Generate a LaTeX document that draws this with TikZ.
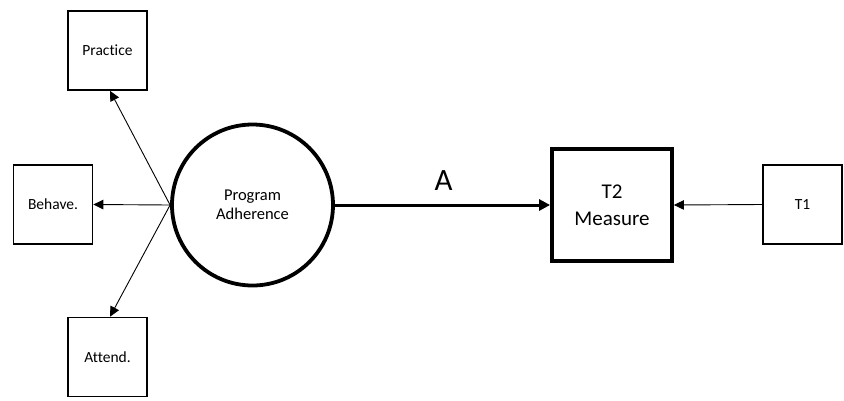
\documentclass[tikz,border=0pt]{standalone}
\usepackage{fontspec}
\setmainfont{Carlito}[Ligatures={NoCommon,NoRare}]
\usetikzlibrary{arrows.meta}

\tikzset{
  smallbox/.style={draw, line width=1.6pt, minimum width=79pt, minimum height=79pt,
    inner sep=0pt, font=\fontsize{15.5}{18}\selectfont},
  latent/.style={draw, circle, line width=3.8pt, minimum size=161pt, inner sep=0pt,
    align=center, font=\fontsize{16.5}{19}\selectfont},
  outcome/.style={draw, line width=3.8pt, minimum width=120pt, minimum height=112pt,
    inner sep=0pt, align=center, font=\fontsize{21}{27}\selectfont},
  thinarrow/.style={line width=0.9pt, -{Triangle[length=10pt, width=9.5pt]}},
  thickarrow/.style={line width=3pt, -{Triangle[length=11pt, width=11pt]}},
}

\begin{document}
\begin{tikzpicture}[x=1pt, y=-1pt]
  \useasboundingbox (0,0) rectangle (844,400);

  % indicators of program adherence
  \node[smallbox] (practice) at (107.5,50.5) {Practice};
  \node[smallbox] (behave)   at (53,204.5)   {Behave.};
  \node[smallbox] (attend)   at (107.5,357)  {Attend.};

  % latent factor
  \node[latent] (adh) at (252.5,205) {Program\\Adherence};

  % outcome and baseline
  \node[outcome] (t2) at (612,205) {T2\\Measure};
  \node[smallbox] (t1) at (802.5,204.5) {T1};

  % loadings
  \draw[thinarrow] (adh.west) -- ([xshift=2.5pt]practice.south);
  \draw[thinarrow] (adh.west) -- (behave.east);
  \draw[thinarrow] (adh.west) -- ([xshift=2.5pt]attend.north);

  % structural path A
  \draw[thickarrow] (adh.east) -- (t2.west)
    node[pos=0.505, above=10pt, font=\fontsize{31}{31}\selectfont] (lblA) {A};

  % baseline covariate
  \draw[thinarrow] (t1.west) -- (t2.east);
\end{tikzpicture}
\end{document}
